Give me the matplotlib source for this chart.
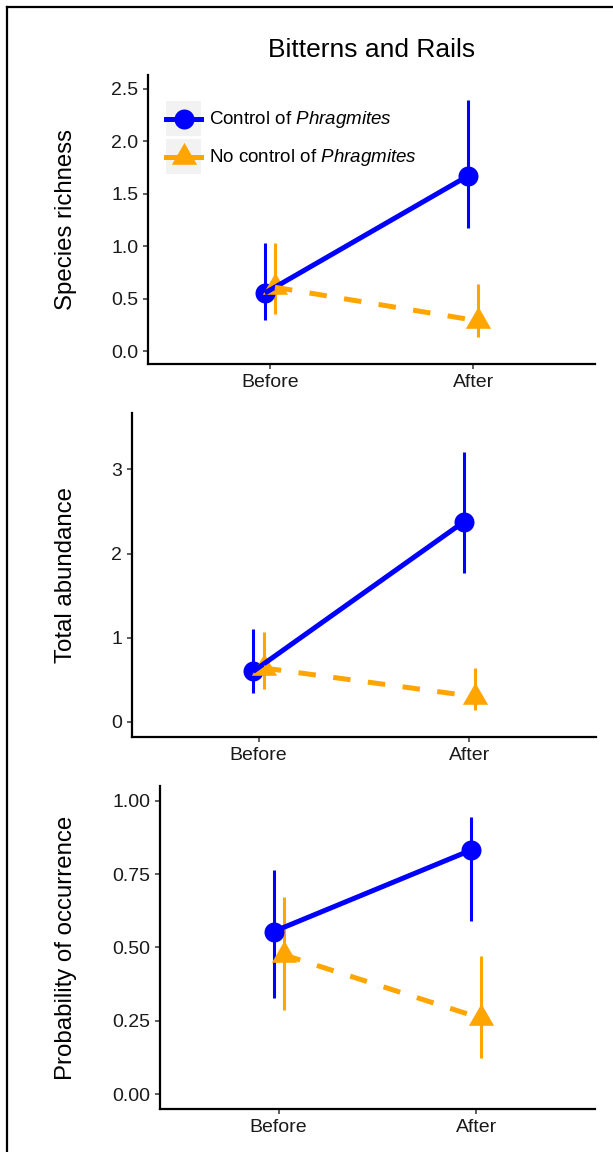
import matplotlib
matplotlib.use("Agg")
import matplotlib.pyplot as plt
from matplotlib.lines import Line2D
from matplotlib.patches import Rectangle
from matplotlib.legend_handler import HandlerBase
import numpy as np

plt.rcParams['font.family'] = ['Liberation Sans', 'DejaVu Sans']
plt.rcParams['mathtext.fontset'] = 'custom'
plt.rcParams['mathtext.rm'] = 'Liberation Sans'
plt.rcParams['mathtext.it'] = 'Liberation Sans:italic'

# data
periods = ["Before", "After"]
labels = ["Control of $\\it{Phragmites}$", "No control of $\\it{Phragmites}$"]

rich_ctrl = [0.555, 1.67]
rich_ctrl_lo = [0.295, 1.17]
rich_ctrl_hi = [1.035, 2.39]
rich_none = [0.61, 0.29]
rich_none_lo = [0.36, 0.14]
rich_none_hi = [1.03, 0.64]

abund_ctrl = [0.60, 2.38]
abund_ctrl_lo = [0.34, 1.77]
abund_ctrl_hi = [1.10, 3.21]
abund_none = [0.64, 0.30]
abund_none_lo = [0.39, 0.14]
abund_none_hi = [1.07, 0.64]

occ_ctrl = [0.554, 0.832]
occ_ctrl_lo = [0.329, 0.591]
occ_ctrl_hi = [0.762, 0.945]
occ_none = [0.475, 0.258]
occ_none_lo = [0.287, 0.123]
occ_none_hi = [0.673, 0.471]

W, H = 613, 1152
fig = plt.figure(figsize=(W/100, H/100), dpi=100)

blue = '#0000FF'
orange = '#FFA500'
# triangle with its centroid on the data point (like R's pch 17)
tri = [(0, 1), (-0.866, -0.5), (0.866, -0.5)]


class KeyHandler(HandlerBase):
    # grey key box with line + marker centred in it (ggplot style)
    def create_artists(self, legend, orig_handle, xdescent, ydescent,
                       width, height, fontsize, trans):
        y = height/2 - ydescent
        bg = Rectangle((-xdescent, -ydescent), width, height,
                       facecolor='#F2F2F2', edgecolor='none', transform=trans)
        ln = Line2D([-xdescent, width - xdescent], [y, y], color=orig_handle.get_color(),
                    linewidth=orig_handle.get_linewidth(), transform=trans)
        mk = Line2D([width/2 - xdescent], [y], linestyle='none',
                    marker=orig_handle.get_marker(), markersize=orig_handle.get_markersize(),
                    color=orig_handle.get_color(), markeredgewidth=0, transform=trans)
        return [bg, ln, mk]


def px_axes(left, right, top, bottom):
    return fig.add_axes([left/W, 1-bottom/H, (right-left)/W, (bottom-top)/H])


def draw_panel(ax, ctrl, clo, chi, none, nlo, nhi, yticks, ylabels, ylim, ylabel, label_x):
    x = np.arange(1, len(periods)+1)
    dodge = 0.025
    for xs, m, lo, hi, col, mk, ms, ls in [
            (x - dodge, ctrl, clo, chi, blue, 'o', 14.4, '-'),
            (x + dodge, none, nlo, nhi, orange, tri, 21, '--')]:
        m = np.array(m)
        yerr = [m - np.array(lo), np.array(hi) - m]
        ax.errorbar(xs, m, yerr=yerr, fmt='none', ecolor=col, elinewidth=2.2, capsize=0, zorder=2)
        ax.plot(xs, m, linestyle='none', marker=mk, markersize=ms, color=col,
                markeredgewidth=0, zorder=3)
        ln, = ax.plot(xs, m, color=col, linewidth=3.6, solid_capstyle='butt', zorder=4)
        if ls == '--':
            ln.set_dashes((3.5, 3.5))
            ln.set_dash_capstyle('butt')
    ax.set_xlim(0.4, 2.6)
    ax.set_xticks(x)
    ax.set_xticklabels(periods)
    ax.set_ylim(*ylim)
    ax.set_yticks(yticks)
    ax.set_yticklabels(ylabels)
    for s in ['top', 'right']:
        ax.spines[s].set_visible(False)
    for s in ['left', 'bottom']:
        ax.spines[s].set_linewidth(1.6)
        ax.spines[s].set_color('black')
    ax.tick_params(axis='both', length=3.8, width=1.1, color='#333333',
                   labelsize=14, labelcolor='#1a1a1a', pad=3.2)
    ax.set_ylabel(ylabel, fontsize=17.3, color='black', va='center')
    bb = ax.get_position()
    ax.yaxis.set_label_coords((label_x/W - bb.x0)/bb.width, 0.5)


ax1 = px_axes(148, 595, 75, 364)
draw_panel(ax1, rich_ctrl, rich_ctrl_lo, rich_ctrl_hi, rich_none, rich_none_lo, rich_none_hi,
           [0, 0.5, 1.0, 1.5, 2.0, 2.5], ["0.0", "0.5", "1.0", "1.5", "2.0", "2.5"],
           (-0.12, 2.63), "Species richness", 66)

ax2 = px_axes(132, 596, 413, 737)
draw_panel(ax2, abund_ctrl, abund_ctrl_lo, abund_ctrl_hi, abund_none, abund_none_lo, abund_none_hi,
           [0, 1, 2, 3], ["0", "1", "2", "3"],
           (-0.18, 3.67), "Total abundance", 66)

ax3 = px_axes(160, 595, 786, 1109)
draw_panel(ax3, occ_ctrl, occ_ctrl_lo, occ_ctrl_hi, occ_none, occ_none_lo, occ_none_hi,
           [0, 0.25, 0.5, 0.75, 1.0], ["0.00", "0.25", "0.50", "0.75", "1.00"],
           (-0.051, 1.05), "Probability of occurrence", 66)

fig.text(371.5/W, 1-50/H, "Bitterns and Rails", ha='center', va='center', fontsize=19)

# legend
handles = [
    Line2D([], [], color=blue, linewidth=3.6, marker='o', markersize=14.4),
    Line2D([], [], color=orange, linewidth=3.6, marker=tri, markersize=21),
]
leg = ax1.legend(handles, labels, loc='upper left', bbox_to_anchor=(166/W, 1-101/H),
                 bbox_transform=fig.transFigure, frameon=False, fontsize=13.5,
                 handler_map={Line2D: KeyHandler()},
                 handlelength=1.867, handleheight=2.495, labelspacing=0.16,
                 handletextpad=0.4, borderpad=0, borderaxespad=0)

# frame lines at left and top of the picture
fig.add_artist(Line2D([7/W, 7/W], [0, 1-7/H], color='black', linewidth=1.6, transform=fig.transFigure))
fig.add_artist(Line2D([7/W, 1], [1-7/H, 1-7/H], color='black', linewidth=1.6, transform=fig.transFigure))

fig.savefig('out.png', dpi=100)
